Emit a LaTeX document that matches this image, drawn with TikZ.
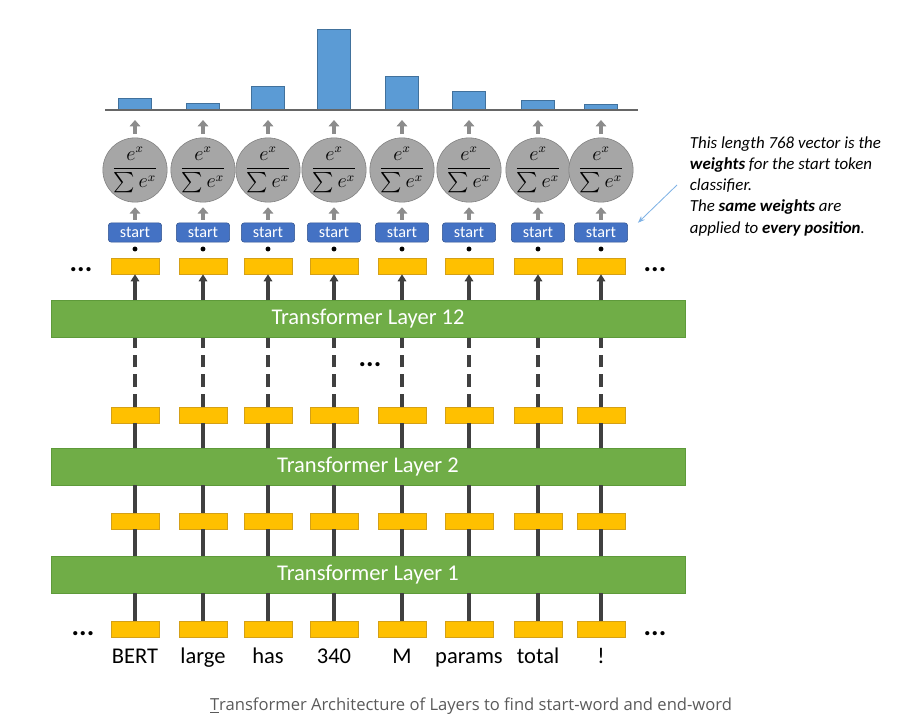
\documentclass[tikz,border=0pt]{standalone}
\usepackage{amsmath}
\usepackage{fontspec}
\setmainfont{Carlito}
\newfontfamily\capfont{Open Sans}
\usepackage{tikz}
\usetikzlibrary{arrows.meta, positioning}
\definecolor{layergreen}{HTML}{70AD47}
\definecolor{layerborder}{HTML}{5E9A3A}
\definecolor{tokenyellow}{HTML}{FFC000}
\definecolor{tokenborder}{HTML}{D4A017}
\definecolor{startblue}{HTML}{4472C4}
\definecolor{startborder}{HTML}{2F528F}
\definecolor{barblue}{HTML}{5B9BD5}
\definecolor{barborder}{HTML}{41719C}
\definecolor{circlegray}{HTML}{A6A6A6}
\definecolor{circleborder}{HTML}{7F7F7F}
\definecolor{linkgray}{HTML}{404040}
\definecolor{arrowgray}{HTML}{8C8C8C}
\definecolor{pointerblue}{HTML}{7FB2E5}
\definecolor{captiongray}{HTML}{5A5A5A}
\tikzstyle{layer} = [rectangle, minimum width=15.85cm, minimum height=0.93cm, text centered, draw=layerborder, fill=layergreen, text=white, font=\fontsize{16}{20}\selectfont]
\tikzstyle{token} = [rectangle, minimum width=1.2cm, minimum height=0.4cm, inner sep=0pt, draw=tokenborder, fill=tokenyellow]
\tikzstyle{startbox} = [rectangle, rounded corners=2pt, minimum width=1.33cm, minimum height=0.48cm, inner sep=0pt, draw=startborder, fill=startblue, text=white, font=\fontsize{11.5}{13}\selectfont]
\tikzstyle{softmax} = [circle, minimum size=1.55cm, inner sep=0pt, draw=circleborder, fill=circlegray, font=\fontsize{13.5}{16}\selectfont]
\tikzstyle{bar} = [rectangle, minimum width=0.83cm, inner sep=0pt, anchor=south, draw=barborder, fill=barblue]
\tikzstyle{word} = [anchor=base, font=\fontsize{16}{19}\selectfont]
\tikzstyle{more} = [anchor=base, font=\fontsize{20}{20}\selectfont\bfseries]
\tikzstyle{note} = [anchor=north west, align=left, font=\fontsize{12}{15}\selectfont\itshape]
\tikzstyle{link} = [line width=2.2pt, draw=linkgray]
\tikzstyle{arrow} = [link, -{Triangle[width=6pt,length=5pt]}]
\tikzstyle{softarrow} = [line width=2.6pt, draw=arrowgray, -{Triangle[width=7.5pt,length=4.5pt]}]
\tikzstyle{pointer} = [draw=pointerblue, line width=0.6pt, -{Stealth[length=5pt]}]

\begin{document}
\begin{tikzpicture}[x=0.025cm, y=-0.025cm]
\useasboundingbox (0,0) rectangle (910,723);

\node (layer12) [layer] at (368,319) {Transformer Layer 12};
\node (layer2) [layer] at (368,466.5) {Transformer Layer 2};
\node (layer1) [layer] at (368,574.5) {Transformer Layer 1};

\foreach \x/\h/\w [count=\i] in {135/11/BERT, 203/6/large, 268/23/has, 334/80/340, 402/33/M, 469/18/params, 538/9/total, 601/5/!} {
  \node (in\i) [token] at (\x,629) {};
  \node (hidA\i) [token] at (\x,521) {};
  \node (hidB\i) [token] at (\x,415) {};
  \node (out\i) [token] at (\x,266) {};
  \node (word\i) [word] at (\x,663) {\w};
  \node (dot\i) [circle, fill=black, inner sep=0pt, minimum size=3.5pt] at (\x,249) {};
  \node (start\i) [startbox] at (\x,232.5) {start};
  \node (soft\i) [softmax] at (\x,170) {$\dfrac{e^x}{\sum e^x}$};
  \node (bar\i) [bar, minimum height=\h*0.025cm] at (\x,110) {};

  \draw [link] (in\i.north) -- (in\i.north |- layer1.south);
  \draw [link] (layer1.north -| hidA\i) -- (hidA\i.south);
  \draw [link] (hidA\i.north) -- (hidA\i.north |- layer2.south);
  \draw [link] (layer2.north -| hidB\i) -- (hidB\i.south);
  \draw [link, dash pattern=on 9pt off 5pt] (hidB\i.north) -- (hidB\i.north |- layer12.south);
  \draw [arrow] (layer12.north -| out\i) -- (out\i.south);
  \draw [softarrow, shorten <=0.075cm, shorten >=0.12cm] (start\i.north) -- (soft\i.south);
  \draw [softarrow, shorten <=0.1cm, shorten >=0.25cm] (soft\i.north) -- (bar\i.south);
}
\draw [line width=1.5pt, draw=linkgray!80] (105,110) -- (638,110);

\node (moreTL) [more] at (81,271) {...};
\node (moreTR) [more] at (655,271) {...};
\node (moreM) [more] at (370,366) {...};
\node (moreBL) [more] at (83,635) {...};
\node (moreBR) [more] at (655,635) {...};

\node (note) [note] at (685,132) {This length 768 vector is the\\
  \textbf{weights} for the start token\\
  classifier.\\
  The \textbf{same weights} are\\
  applied to \textbf{every position}.};
\coordinate (tail) at (677,185);
\draw [pointer, shorten >=0.35cm] (tail) -- (start8.east);

\node (caption) [font=\capfont\fontsize{11.8}{14}\selectfont, text=captiongray] at (471,706) {\underline{T}ransformer Architecture of Layers to find start-word and end-word};
\end{tikzpicture}
\end{document}
